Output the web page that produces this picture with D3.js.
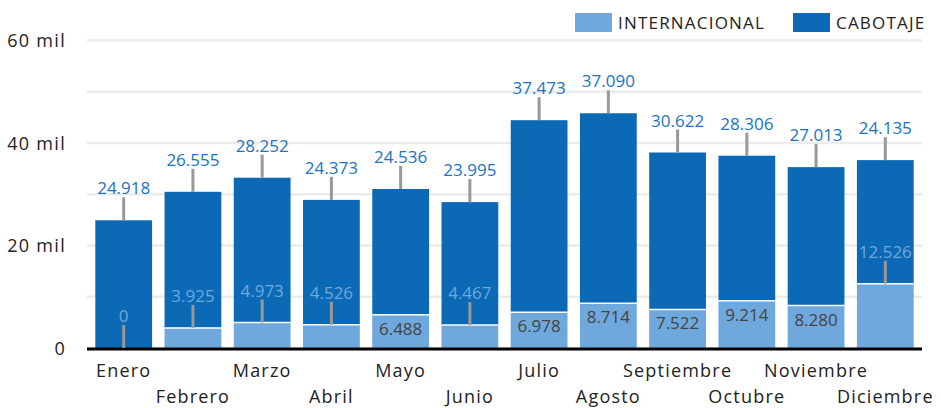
<!DOCTYPE html>
<html>
<head>
<script src="https://d3js.org/d3.v7.min.js" charset="utf-8"></script>
<style>
    body { margin: 0; background: #fff; }
    text { font-family: "Open Sans", "Noto Sans", sans-serif; }
</style>
</head>
<body>
<script>
    // Data
    var meses = ["Enero", "Febrero", "Marzo", "Abril", "Mayo", "Junio", "Julio",
                 "Agosto", "Septiembre", "Octubre", "Noviembre", "Diciembre"];
    var internacional = [0, 3925, 4973, 4526, 6488, 4467, 6978, 8714, 7522, 9214, 8280, 12526];
    var cabotaje = [24918, 26555, 28252, 24373, 24536, 23995, 37473, 37090, 30622, 28306, 27013, 24135];
    // where the internacional label sits: inside the segment or above it
    var posInter = ["out", "out", "out", "out", "in", "out", "in", "in", "in", "in", "in", "out"];
    var yTicks = [0, 20000, 40000, 60000];
    var yGrid = [0, 10000, 20000, 30000, 40000, 50000, 60000];
    var series = ["INTERNACIONAL", "CABOTAJE"];

    var wid = 941;
    var h = 408;
    var colInter = "#6fa8dc";
    var colCab = "#0b69b5";
    var colLabel = "#1a73c4";

    var fmt = d3.format(",d");
    function num(v) { return fmt(v).replace(/,/g, "."); }

    var svg = d3.select("body")
                .append("svg")
                .attr("width", wid)
                .attr("height", h);

    var x = d3.scaleBand()
              .domain(meses)
              .range([87, 922])
              .paddingInner(0.18)
              .paddingOuter(0.12);

    var y = d3.scaleLinear()
              .domain([0, 60000])
              .range([348, 40.5]);

    // gridlines
    svg.selectAll("line.grid")
        .data(yGrid)
        .enter()
        .append("line")
        .attr("x1", 87)
        .attr("x2", 922)
        .attr("y1", function(d) { return y(d); })
        .attr("y2", function(d) { return y(d); })
        .attr("stroke", "#ebebeb")
        .attr("stroke-width", 2.5);

    // y axis labels
    svg.selectAll("text.ytick")
        .data(yTicks)
        .enter()
        .append("text")
        .attr("x", 66)
        .attr("y", function(d) { return y(d) + 6.5; })
        .attr("text-anchor", "end")
        .attr("font-size", "18px")
        .attr("letter-spacing", "1.3px")
        .attr("fill", "#222")
        .text(function(d) { return d === 0 ? "0" : (d / 1000) + " mil"; });

    var data = meses.map(function(m, i) {
        return {mes: m, i: i, inter: internacional[i], cab: cabotaje[i], pos: posInter[i]};
    });

    // bars
    svg.selectAll("rect.inter")
        .data(data)
        .enter()
        .append("rect")
        .attr("x", function(d) { return x(d.mes); })
        .attr("y", function(d) { return y(d.inter); })
        .attr("width", x.bandwidth())
        .attr("height", function(d) { return y(0) - y(d.inter); })
        .attr("fill", colInter);

    svg.selectAll("rect.cab")
        .data(data)
        .enter()
        .append("rect")
        .attr("x", function(d) { return x(d.mes); })
        .attr("y", function(d) { return y(d.inter + d.cab); })
        .attr("width", x.bandwidth())
        .attr("height", function(d) { return y(d.inter) - y(d.inter + d.cab); })
        .attr("fill", colCab);

    // white divider between segments
    svg.selectAll("line.div")
        .data(data.filter(function(d) { return d.inter > 0; }))
        .enter()
        .append("line")
        .attr("x1", function(d) { return x(d.mes); })
        .attr("x2", function(d) { return x(d.mes) + x.bandwidth(); })
        .attr("y1", function(d) { return y(d.inter); })
        .attr("y2", function(d) { return y(d.inter); })
        .attr("stroke", "#fff")
        .attr("stroke-width", 1.5);

    // baseline
    svg.append("line")
        .attr("x1", 87)
        .attr("x2", 922)
        .attr("y1", y(0) + 1)
        .attr("y2", y(0) + 1)
        .attr("stroke", "#000")
        .attr("stroke-width", 3);

    // leaders
    var leaders = [];
    data.forEach(function(d) {
        leaders.push({mes: d.mes, top: y(d.inter + d.cab)});
        if (d.pos === "out") leaders.push({mes: d.mes, top: y(d.inter)});
    });
    svg.selectAll("line.leader")
        .data(leaders)
        .enter()
        .append("line")
        .attr("x1", function(d) { return x(d.mes) + x.bandwidth() / 2; })
        .attr("x2", function(d) { return x(d.mes) + x.bandwidth() / 2; })
        .attr("y1", function(d) { return d.top; })
        .attr("y2", function(d) { return d.top - 23; })
        .attr("stroke", "#999")
        .attr("stroke-width", 3);

    // cabotaje labels
    svg.selectAll("text.cab")
        .data(data)
        .enter()
        .append("text")
        .attr("x", function(d) { return x(d.mes) + x.bandwidth() / 2; })
        .attr("y", function(d) { return y(d.inter + d.cab) - 26; })
        .attr("text-anchor", "middle")
        .attr("font-size", "17px")
        .attr("fill", colLabel)
        .text(function(d) { return num(d.cab); });

    // internacional labels
    svg.selectAll("text.inter")
        .data(data)
        .enter()
        .append("text")
        .attr("x", function(d) { return x(d.mes) + x.bandwidth() / 2; })
        .attr("y", function(d) { return d.pos === "out" ? y(d.inter) - 26 : y(d.inter) + 20; })
        .attr("text-anchor", "middle")
        .attr("font-size", "17px")
        .attr("fill", function(d) { return d.pos === "out" ? colInter : "#444"; })
        .text(function(d) { return num(d.inter); });

    // x labels, alternating rows
    svg.selectAll("text.mes")
        .data(data)
        .enter()
        .append("text")
        .attr("x", function(d) { return x(d.mes) + x.bandwidth() / 2; })
        .attr("y", function(d) { return d.i % 2 === 0 ? 377 : 403; })
        .attr("text-anchor", "middle")
        .attr("font-size", "18px")
        .attr("letter-spacing", "1.2px")
        .attr("fill", "#222")
        .text(function(d) { return d.mes; });

    // legend
    var legX = [575, 793];
    var leg = svg.selectAll("g.leg")
        .data(series)
        .enter()
        .append("g")
        .attr("transform", function(d, i) { return "translate(" + legX[i] + ",13)"; });
    leg.append("rect")
        .attr("width", 37)
        .attr("height", 19)
        .attr("fill", function(d, i) { return i === 0 ? colInter : colCab; });
    leg.append("text")
        .attr("x", 43)
        .attr("y", 15.5)
        .attr("font-size", "17px")
        .attr("letter-spacing", "1.2px")
        .attr("fill", "#222")
        .text(function(d) { return d; });
</script>
</body>
</html>
